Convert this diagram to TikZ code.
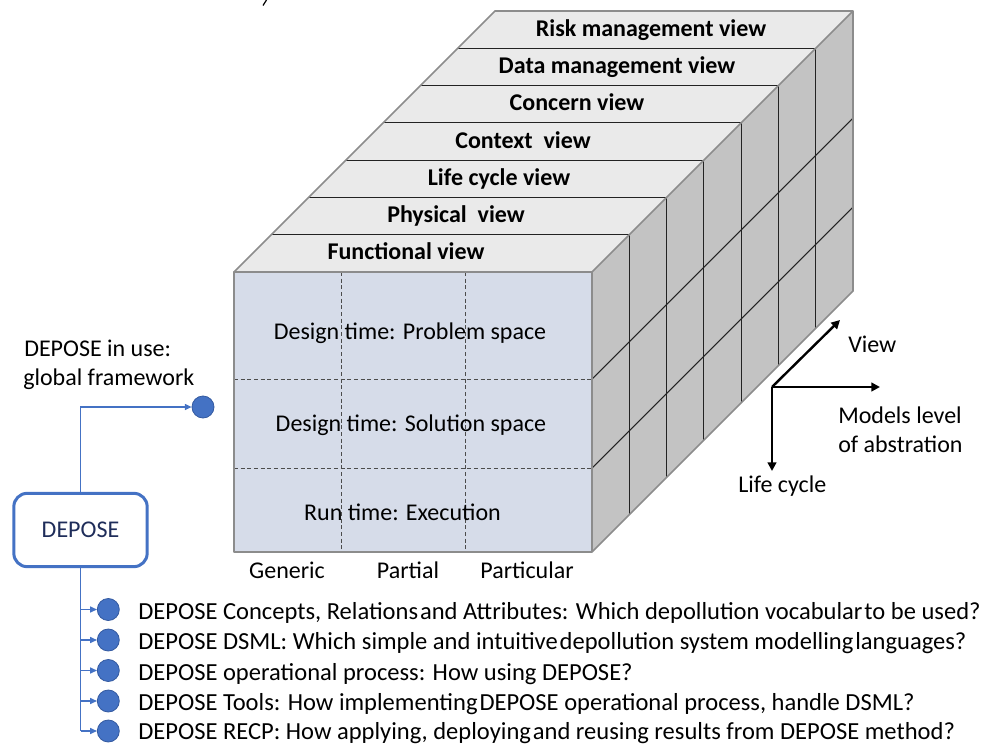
\documentclass[tikz,border=0pt]{standalone}
\usepackage{fontspec}
\setmainfont{Carlito}
\usetikzlibrary{arrows.meta,calc}
\definecolor{frontc}{RGB}{214,220,233}
\definecolor{topc}{RGB}{234,234,234}
\definecolor{sidec}{RGB}{195,195,195}
\definecolor{edgec}{RGB}{140,140,140}
\definecolor{linec}{RGB}{35,35,35}
\definecolor{dblue}{RGB}{68,114,196}
\definecolor{dbluedark}{RGB}{52,90,160}
\definecolor{navy}{RGB}{31,45,90}
\newcommand{\tg}{\hspace{0.08em}}
\begin{document}
\begin{tikzpicture}[x=0.75pt,y=-0.75pt,
  txt/.style={font=\fontsize{18pt}{21pt}\selectfont, inner sep=0pt, anchor=base, text=black},
  btxt/.style={txt, font=\fontsize{18pt}{21pt}\selectfont\bfseries},
  ltxt/.style={txt, anchor=base west, font=\fontsize{18.4pt}{21pt}\selectfont},
  edgeln/.style={draw=edgec, line width=1.3pt, line join=round},
  innerln/.style={draw=linec, line width=0.8pt},
  dashln/.style={draw=black!70, line width=0.7pt, dash pattern=on 3pt off 2pt},
  bl/.style={draw=dblue, line width=0.8pt},
  blarrow/.style={bl, -{Triangle[length=5pt,width=4.5pt]}},
  dot/.style={circle, fill=dblue, draw=dbluedark, line width=0.6pt, minimum size=16.5pt, inner sep=0pt},
  axisarrow/.style={draw=black, line width=1.8pt, -{Triangle[length=6.5pt,width=6.5pt]}}]
\useasboundingbox (0,0) rectangle (989,746);
% stray glyph fragment at top
\draw[line width=0.9pt] (266.5,0) -- (263,5.5);
% cube faces
\fill[frontc] (234,272) rectangle (592,552);
\fill[topc] (234,272) -- (495,11) -- (853,11) -- (592,272) -- cycle;
\fill[sidec] (592,272) -- (853,11) -- (853,291) -- (592,552) -- cycle;
% front dashed grid
\draw[dashln] (341,272) -- (341,552);
\draw[dashln] (465,272) -- (465,552);
\draw[dashln] (234,379) -- (592,379);
\draw[dashln] (234,468) -- (592,468);
% top bands and right face verticals
\foreach \k in {1,...,6}{
  \pgfmathsetmacro{\dd}{37.2857*\k}
  \draw[innerln] ({234+\dd},{272-\dd}) -- ({592+\dd},{272-\dd}) -- ({592+\dd},{552-\dd});
}
% right face row lines
\draw[innerln] (592,379) -- (853,118);
\draw[innerln] (592,468) -- (853,207);
% outline
\draw[edgeln] (234,272) rectangle (592,552);
\draw[edgeln] (234,272) -- (495,11) -- (853,11) -- (853,291) -- (592,552);
\draw[edgeln] (592,272) -- (853,11);
% band labels
\node[btxt] (vrisk) at (651,36.5) {Risk management view};
\node[btxt] (vdata) at (617,73) {Data management view};
\node[btxt] (vconc) at (577,110.5) {Concern view};
\node[btxt] (vcont) at (523,148) {Context\ \ view};
\node[btxt] (vlife) at (499,185) {Life cycle view};
\node[btxt] (vphys) at (456,222) {Physical\ \ view};
\node[btxt] (vfunc) at (406,259) {Functional view};
% front face labels
\node[txt] (fprob) at (410,339) {Design time: Problem space};
\node[txt] (fsol) at (411,431) {Design time: Solution space};
\node[txt] (frun) at (402.5,520) {Run time: Execution};
% column labels
\node[txt] (cgen) at (287,578) {Generic};
\node[txt] (cpar) at (408,578) {Partial};
\node[txt] (cpart) at (527,578) {Particular};
% axes
\coordinate (ax) at (772,387);
\coordinate (axv) at (840,320);
\coordinate (axm) at (880,387);
\coordinate (axl) at (772,471);
\draw[axisarrow] (ax) -- (axv);
\draw[axisarrow] (ax) -- (axm);
\draw[axisarrow] (ax) -- (axl);
\node[txt, anchor=base west] (lview) at (848,352) {View};
\node[txt, anchor=base west] (lmod1) at (838,423) {Models level};
\node[txt, anchor=base west] (lmod2) at (838,452) {of abstration};
\node[txt, anchor=base west] (llife) at (738,492) {Life cycle};
% left part
\node[txt, anchor=base west] (inuse1) at (24,356) {DEPOSE in use:};
\node[txt, anchor=base west] (inuse2) at (23,385) {global framework};
\node[dot] (use) at (203,407) {};
\node[draw=dblue, line width=2.25pt, rounded corners=10pt, minimum width=100pt, minimum height=55pt, fill=white, font=\fontsize{18pt}{21pt}\selectfont, text=navy] (box) at (80.5,530) {DEPOSE};
\draw[blarrow] (box.north) |- (use.west);
% bullets
\foreach \i/\yy in {1/609.5,2/640,3/670.5,4/701,5/731}{
  \node[dot] (b\i) at (108.3,\yy) {};
}
\draw[bl] (box.south) -- (box.south |- b5);
\foreach \i in {1,...,5}{
  \draw[blarrow] (box.south |- b\i) -- (b\i.west);
}
\node[ltxt] (t1) at (138,619) {DEPOSE Concepts, Relations\tg and Attributes: Which depollution vocabular\tg to be used?};
\node[ltxt] (t2) at (138,649.5) {DEPOSE DSML: Which simple and intuitive\tg depollution system modelling\tg languages?};
\node[ltxt] (t3) at (138,680) {DEPOSE operational process: How using DEPOSE?};
\node[ltxt] (t4) at (138,710.5) {DEPOSE Tools: How implementing\tg DEPOSE operational process, handle DSML?};
\node[ltxt] (t5) at (138,739.5) {DEPOSE RECP: How applying, deploying\tg and reusing results from DEPOSE method?};
\end{tikzpicture}
\end{document}
